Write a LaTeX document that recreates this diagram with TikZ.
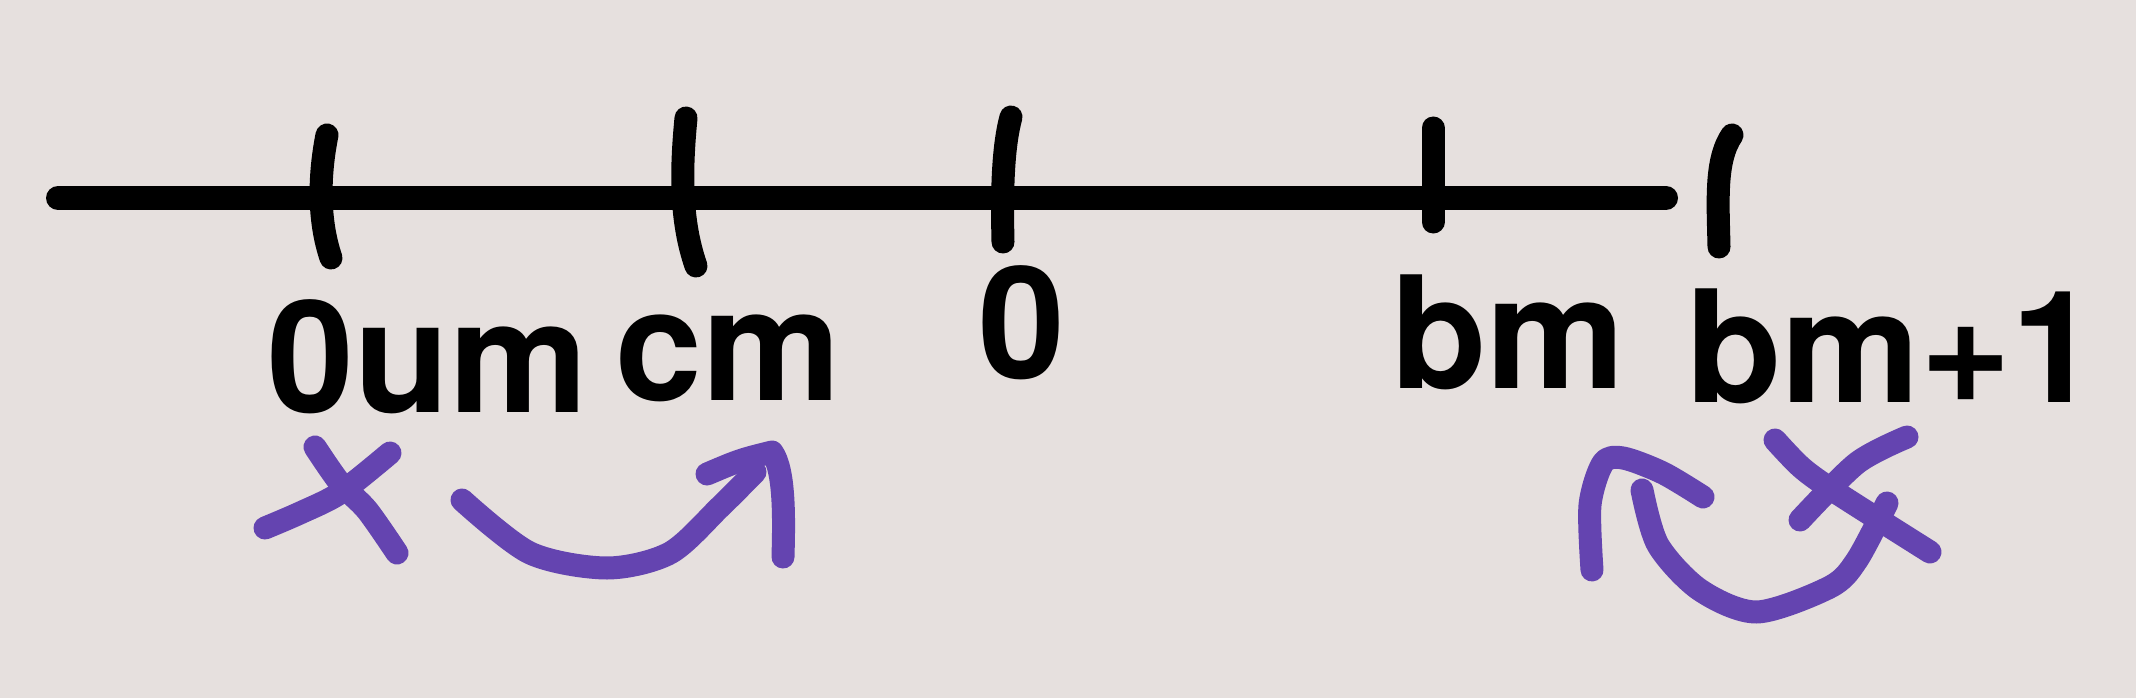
\documentclass[tikz,border=0pt]{standalone}
\usepackage{fontspec}
\setmainfont{TeX Gyre Heros}
\definecolor{bgc}{RGB}{230,224,222}
\definecolor{pen}{RGB}{100,68,176}
\tikzset{
  ink/.style={line width=23pt, line cap=round, line join=round},
  blk/.style={ink, draw=black},
  purp/.style={ink, draw=pen},
  lbl/.style={font=\bfseries\fontsize{156}{160}\selectfont, inner sep=0pt, anchor=base, text=black}
}
\begin{document}
\begin{tikzpicture}[x=1pt,y=-1pt]
\useasboundingbox (0,0) rectangle (2136,698);
\fill[bgc] (0,0) rectangle (2136,698);
% number line
\draw[blk, line width=24pt] (58,198) -- (1666,198);
% ticks
\draw[blk] (327,135) .. controls (319,175) and (318,220) .. (331,258);
\draw[blk] (686,118) .. controls (681,170) and (680,220) .. (696,266);
\draw[blk] (1011,117) .. controls (1002,150) and (1002,200) .. (1003,242);
\draw[blk] (1433,128) -- (1433,222);
\draw[blk] (1732,135) .. controls (1715,160) and (1718,200) .. (1719,247);
% labels
\node[lbl] (l1) at (428,412) {0um};
\node[lbl] (l2) at (728,400) {cm};
\node[lbl] (l3) at (1022,378) {0};
\node[lbl] (l4) at (1508,388) {bm};
\node[lbl] (l5) at (1892,402) {bm+1};
% left cross
\draw[purp] plot[smooth] coordinates {(315,447) (340,483) (367,510) (397,553)};
\draw[purp] plot[smooth] coordinates {(390,453) (340,493) (300,513) (265,528)};
% left arrow
\draw[purp] plot[smooth] coordinates {(462,500) (530,553) (607,568) (670,553) (720,507) (755,472)};
\draw[purp] (707,474) .. controls (740,460) .. (772,452) .. controls (785,470) and (784,520) .. (783,557);
% right cross
\draw[purp] plot[smooth] coordinates {(1775,440) (1802,468) (1837,493) (1930,552)};
\draw[purp] plot[smooth] coordinates {(1907,437) (1857,463) (1800,520)};
% right arrow
\draw[purp] plot[smooth] coordinates {(1887,503) (1857,560) (1830,587) (1757,612) (1700,590) (1658,545) (1642,490)};
\draw[purp] plot[smooth] coordinates {(1592,570) (1590,505) (1603,463) (1623,458) (1663,473) (1703,497)};
\end{tikzpicture}
\end{document}
